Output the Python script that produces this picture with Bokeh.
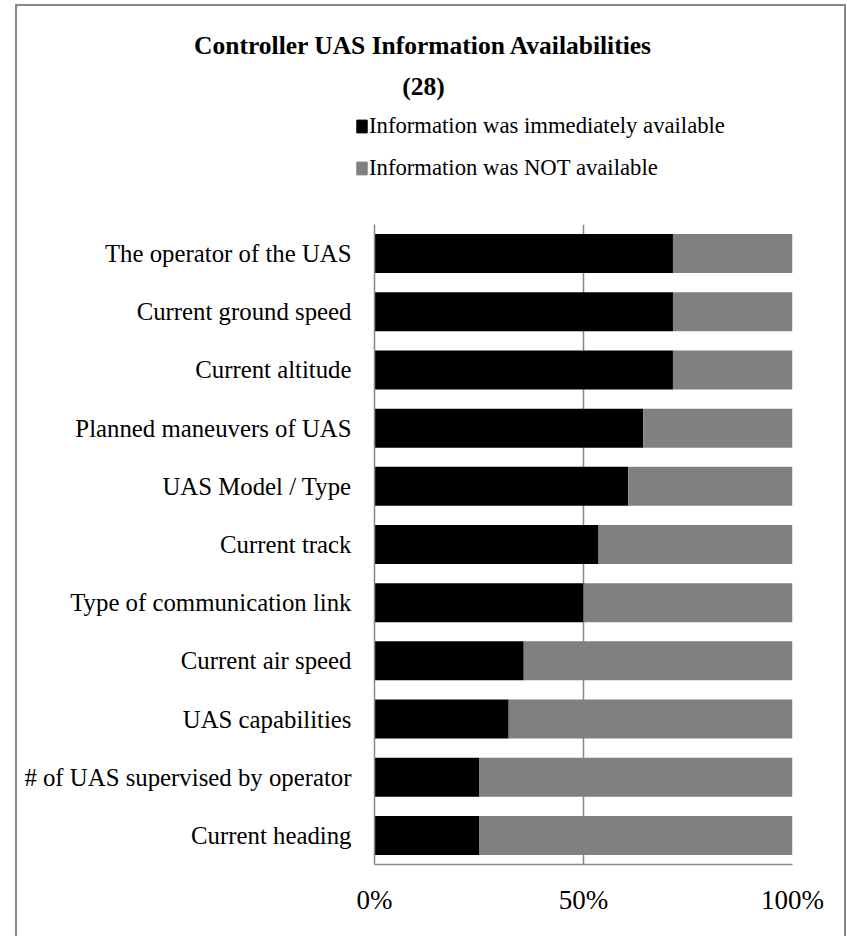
from bokeh.plotting import figure
from bokeh.layouts import column
from bokeh.models import (ColumnDataSource, FactorRange, Range1d, FixedTicker,
                          PrintfTickFormatter, Legend, LegendItem, Label, Column)
from bokeh.embed import file_html
from bokeh.resources import INLINE

# ---- data (top to bottom) ----
categories = [
    "The operator of the UAS",
    "Current ground speed",
    "Current altitude",
    "Planned maneuvers of UAS",
    "UAS Model / Type",
    "Current track",
    "Type of communication link",
    "Current air speed",
    "UAS capabilities",
    "# of UAS supervised by operator",
    "Current heading",
]
available = [71.4, 71.4, 71.4, 64.3, 60.7, 53.6, 50.0, 35.7, 32.1, 25.0, 25.0]
not_available = [28.6, 28.6, 28.6, 35.7, 39.3, 46.4, 50.0, 64.3, 67.9, 75.0, 75.0]
series_names = ["Information was immediately available", "Information was NOT available"]
title_lines = ["Controller UAS Information Availabilities", "(28)"]
x_ticks = [0, 50, 100]

FONT = "Liberation Serif"
BLACK = "#000000"
GRAY = "#808080"
LINE = "#898989"

W = 827        # content width inside the chart border
HDR_H = 218    # header (title + legend)
MAIN_H = 712   # plot part

# ---------------- header: title + legend ----------------
hdr = figure(width=W, height=HDR_H, output_backend="svg", toolbar_location=None,
             x_range=Range1d(0, W), y_range=Range1d(HDR_H, 0),
             x_axis_location=None, y_axis_location=None,
             min_border=0, min_border_left=0, min_border_right=0,
             min_border_top=0, min_border_bottom=0)
hdr.outline_line_color = None
hdr.grid.visible = False

hdr.add_layout(Label(x=406, y=39, text=title_lines[0], text_align="center",
                     text_baseline="middle", text_font=FONT, text_font_style="bold",
                     text_font_size="25.5px", text_color="#000000"))
hdr.add_layout(Label(x=406, y=80, text=title_lines[1], text_align="center",
                     text_baseline="middle", text_font=FONT, text_font_style="bold",
                     text_font_size="25.5px", text_color="#000000"))

# swatch renderers for the legend (a single zero-width bar outside the view)
sw_src = ColumnDataSource(dict(y=[-100], left=[0], right=[0]))
sw0 = hdr.hbar(y="y", left="left", right="right", height=1, fill_color=BLACK,
               line_color=BLACK, source=sw_src)
sw1 = hdr.hbar(y="y", left="left", right="right", height=1, fill_color=GRAY,
               line_color=GRAY, source=sw_src)
legend = Legend(items=[LegendItem(label=series_names[0], renderers=[sw0]),
                       LegendItem(label=series_names[1], renderers=[sw1])],
                location=(338, 43), orientation="vertical",
                border_line_alpha=0, background_fill_alpha=0, padding=0, margin=0,
                spacing=15, glyph_width=13, glyph_height=16, label_height=27,
                label_standoff=1,
                label_text_font=FONT, label_text_font_size="22.7px",
                label_text_color="#000000")
hdr.add_layout(legend, "center")

# ---------------- main stacked bar chart ----------------
src = ColumnDataSource(dict(cat=categories, avail=available, notavail=not_available))

p = figure(width=W, height=MAIN_H, output_backend="svg", toolbar_location=None,
           y_range=FactorRange(factors=list(reversed(categories)), range_padding=0),
           x_range=Range1d(0, 100),
           min_border_left=357, min_border_right=52, min_border_top=0, min_border_bottom=72)
p.outline_line_color = None

rs = p.hbar_stack(["avail", "notavail"], y="cat", height=0.67, color=[BLACK, GRAY],
                  line_width=0, source=src)

p.xaxis.ticker = FixedTicker(ticks=x_ticks)
p.xaxis.formatter = PrintfTickFormatter(format="%d%%")
p.xaxis.major_tick_line_color = None
p.xaxis.minor_tick_line_color = None
p.xaxis.axis_line_color = LINE
p.xaxis.axis_line_width = 1.5
p.xaxis.major_label_standoff = 14
p.xaxis.major_label_text_font = FONT
p.xaxis.major_label_text_font_size = "27px"
p.xaxis.major_label_text_color = "#000000"

p.yaxis.major_tick_line_color = None
p.yaxis.minor_tick_line_color = None
p.yaxis.axis_line_color = LINE
p.yaxis.axis_line_width = 1.5
p.yaxis.major_label_standoff = 17
p.yaxis.major_label_text_font = FONT
p.yaxis.major_label_text_font_size = "24.8px"
p.yaxis.major_label_text_color = "#000000"

p.ygrid.grid_line_color = None
p.xgrid.ticker = FixedTicker(ticks=x_ticks)
p.xgrid.grid_line_color = LINE
p.xgrid.grid_line_width = 1.5
p.xgrid.level = "underlay"

# wrap the header in its own column so its frame is not aligned with the chart frame
hdr_box = Column(children=[hdr], spacing=0)
layout = column(hdr_box, p, spacing=0, margin=(4, 0, 0, 15),
                styles={"border-top": f"2px solid {LINE}",
                        "border-left": f"2px solid {LINE}",
                        "border-right": f"2px solid {LINE}"})

open("out.html", "w").write(file_html(layout, INLINE))
